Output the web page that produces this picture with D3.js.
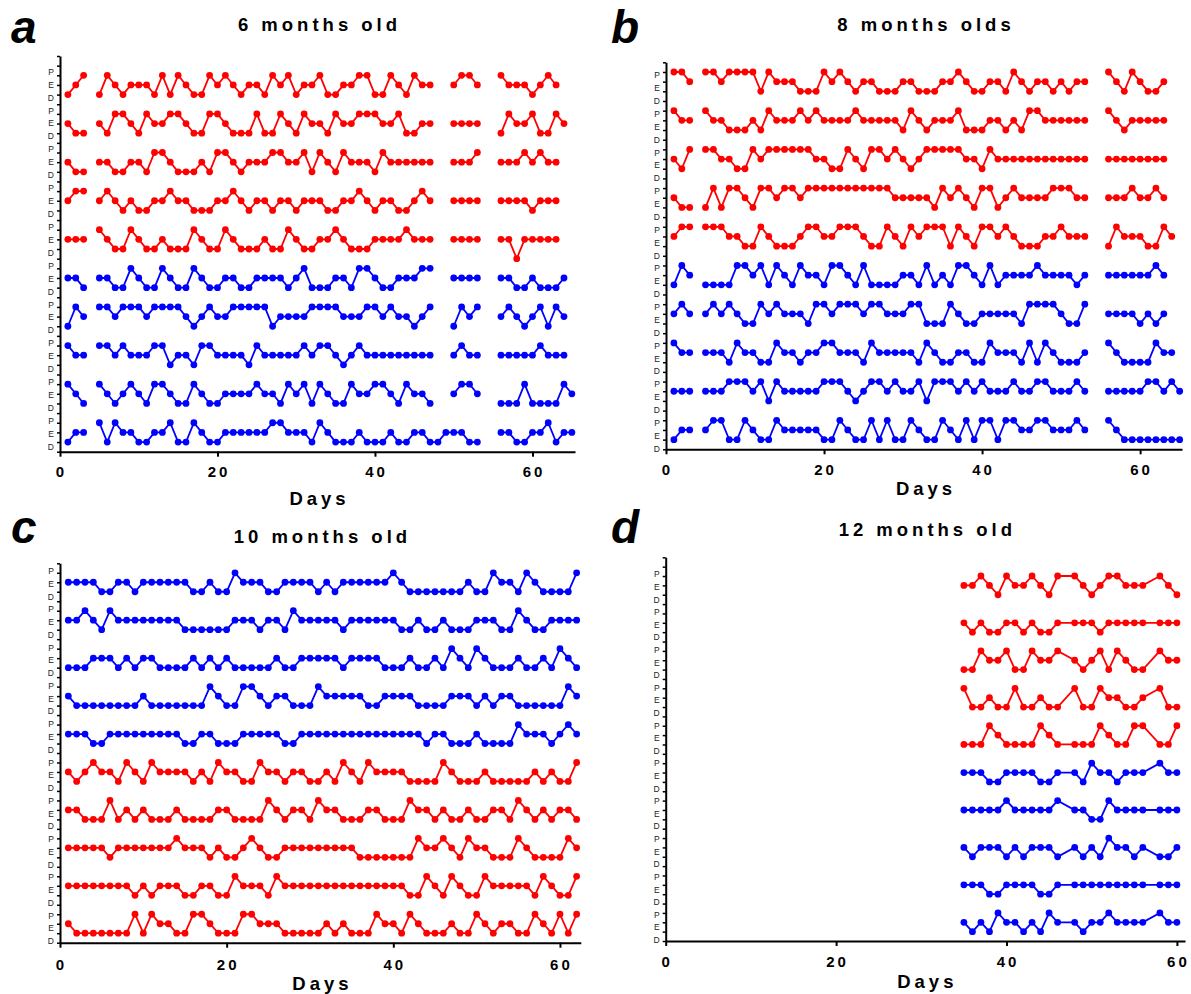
<!DOCTYPE html>
<html>
<head>
<meta charset="utf-8">
<script src="https://cdn.jsdelivr.net/npm/d3@7"></script>
<style>
  body { margin: 0; background: #fff; }
  svg { display: block; }
</style>
</head>
<body>
<div id="chart"></div>
<script>
// missing day
const N = null;

// level codes: 0 = D, 1 = E, 2 = P (-1 = below D)
const levelNames = ["D", "E", "P"];
const dayTicks = [0, 20, 40, 60];

// ---- 6 months old (days from 1) ----
const rows6 = [
  [0,1,2,N, 0,2,1,0,1,1,1,0,2,0,2,1,0,0,2,1,2,1,0,1,1,0,2,1,2,0,1,1,2,0,0,1,1,2,2,0,0,2,1,0,2,1,1, N,N, 1,2,2,1, N,N, 2,1,1,1,0,1,2,1],
  [1,0,0,N, 1,0,2,2,1,0,2,1,1,2,2,1,0,0,2,2,1,0,0,0,2,0,0,2,1,0,2,1,1,0,2,1,1,2,2,2,1,1,2,0,0,1,1, N,N, 1,1,1,1, N,N, 0,2,1,1,2,0,0,2,1],
  [1,0,0,N, 1,1,0,0,1,1,0,2,2,1,0,0,0,1,0,2,2,1,0,1,1,1,2,2,1,1,2,0,2,1,0,2,1,1,1,0,2,1,1,1,1,1,1, N,N, 1,1,1,2, N,N, 1,1,1,2,1,2,1,1],
  [1,2,2,N, 1,2,1,0,1,0,0,1,1,2,1,1,0,0,0,1,1,2,1,0,1,1,0,1,1,0,1,1,1,0,0,1,1,2,1,0,1,1,0,0,1,2,1, N,N, 1,1,1,1, N,N, 1,1,1,1,0,1,1,1],
  [1,1,1,N, 2,1,0,0,2,1,0,0,1,0,0,0,2,1,0,0,2,1,0,0,0,1,0,0,2,1,0,0,1,1,2,1,0,0,0,1,1,1,1,2,1,1,1, N,N, 1,1,1,1, N,N, 1,1,-1,1,1,1,1,1],
  [1,1,0,N, 1,1,0,0,2,1,0,0,2,1,0,0,2,1,0,0,1,1,0,0,1,1,1,1,0,1,2,0,0,0,1,1,0,2,2,1,0,0,1,1,1,2,2, N,N, 1,1,1,1, N,N, 1,1,0,0,1,0,0,0,1],
  [0,2,1,N, 2,2,1,2,2,2,1,2,2,2,2,1,0,1,2,1,1,2,2,2,2,2,0,1,1,1,1,2,2,2,2,1,1,1,2,2,1,2,1,1,0,1,2, N,N, 0,2,1,2, N,N, 1,2,1,0,1,2,0,2,1],
  [2,1,1,N, 2,2,1,2,1,1,1,2,2,0,1,1,0,2,2,1,1,1,1,0,2,1,1,1,1,1,2,1,2,2,1,0,1,2,1,1,1,1,1,1,1,1,1, N,N, 1,2,1,1, N,N, 1,1,1,1,1,2,1,1,1],
  [2,1,0,N, 2,1,0,1,2,1,0,2,2,1,0,0,2,1,0,0,1,1,1,1,2,1,1,0,2,1,2,0,2,1,0,0,2,1,1,2,2,1,0,2,1,1,0, N,N, 1,2,2,1, N,N, 0,0,0,2,0,0,0,0,2,1],
  [0,1,1,N, 2,0,2,1,1,0,0,1,1,2,0,0,2,1,0,0,1,1,1,1,1,1,2,2,1,1,1,0,2,1,0,0,0,1,0,0,0,1,0,0,1,1,0,0, 1,1,1,0,0, N,N, 1,1,0,0,1,1,2,0,1,1]
];

// ---- 8 months olds (days from 1) ----
const rows8 = [
  [2,2,1,N, 2,2,1,2,2,2,2,0,2,1,1,1,0,0,0,2,1,2,1,0,1,1,0,0,0,1,1,0,0,0,1,1,2,1,0,0,1,1,0,2,1,0,1,1,0,1,0,1,1, N,N, 2,1,0,2,1,0,0,1],
  [2,1,1,N, 2,1,1,0,0,0,1,0,2,1,1,1,2,1,2,1,1,1,1,2,1,1,1,1,1,0,2,1,0,1,1,1,2,0,0,0,1,1,0,1,0,2,2,1,1,1,1,1,1, N,N, 2,1,0,1,1,1,1,1],
  [1,0,2,N, 2,2,1,1,0,0,2,1,2,2,2,2,2,2,1,1,0,0,2,1,0,2,2,1,2,1,0,1,2,2,2,2,2,1,1,0,2,1,1,1,1,1,1,1,1,1,1,1,1, N,N, 1,1,1,1,1,1,1,1],
  [1,0,0,N, 0,2,0,2,2,1,0,2,2,1,2,2,1,2,2,2,2,2,2,2,2,2,2,2,1,1,1,1,1,0,2,1,2,1,0,2,2,0,1,2,1,1,1,1,2,2,2,1,1, N,N, 1,1,1,2,1,1,2,1],
  [1,2,2,N, 2,2,2,1,1,0,0,2,1,0,0,0,1,2,2,1,1,2,2,2,1,0,0,2,1,0,2,1,2,2,2,0,2,1,0,2,2,1,2,1,0,0,0,1,1,2,1,1,1, N,N, 0,2,1,1,1,0,0,2,1],
  [0,2,1,N, 0,0,0,0,2,2,1,2,0,2,1,0,2,1,1,0,2,2,1,0,2,0,0,0,0,1,1,0,2,0,1,0,2,2,1,0,2,0,1,1,1,1,2,1,1,1,1,0,1, N,N, 1,1,1,1,1,1,2,1],
  [1,2,1,N, 1,2,1,2,1,0,0,2,1,2,1,1,1,0,2,2,1,2,2,2,1,2,2,1,1,1,2,2,0,0,0,2,1,0,0,1,1,1,1,1,0,2,2,2,2,1,0,0,2, N,N, 1,1,1,1,0,1,0,1],
  [2,1,1,N, 1,1,1,0,2,1,1,0,0,2,1,1,0,1,1,2,2,1,1,1,0,2,1,1,1,1,1,0,2,1,0,0,1,1,0,0,2,1,1,1,0,2,0,2,1,0,0,0,1, N,N, 2,1,0,0,0,0,2,1,1],
  [1,1,1,N, 1,1,1,2,2,2,1,2,0,2,1,1,1,1,1,2,2,2,1,0,1,2,2,1,2,1,1,2,0,2,2,2,1,2,1,2,1,1,1,2,1,1,2,2,1,1,1,2,1, N,N, 1,1,1,1,1,2,2,1,2,1],
  [0,1,1,N, 1,2,2,0,0,2,1,0,0,2,1,1,1,1,1,0,0,2,1,0,0,2,0,2,0,0,2,1,0,0,2,1,0,2,0,2,2,0,2,2,1,1,2,2,1,1,1,2,1, N,N, 2,1,0,0,0,0,0,0,0,0]
];

// ---- 10 months old (days from 1) ----
const rows10 = [
  [1,1,1,1,0,0,1,1,0,1,1,1,1,1,1,0,0,1,0,0,2,1,1,1,0,0,1,1,1,1,0,1,0,1,1,1,1,1,1,2,1,0,0,0,0,0,0,0,1,0,0,2,1,1,0,2,1,0,0,0,0,2],
  [1,1,2,1,0,2,1,1,1,1,1,1,1,1,0,0,0,0,0,0,1,1,1,0,1,1,0,2,1,1,1,1,1,0,1,1,1,1,1,1,0,0,1,0,0,1,0,0,0,1,1,1,0,0,2,1,0,0,1,1,1,1],
  [0,0,0,1,1,1,0,1,0,1,1,0,0,0,0,1,0,1,0,1,0,0,0,0,0,1,0,0,1,1,1,1,1,0,1,1,1,1,0,0,0,1,0,0,1,0,2,1,0,2,1,0,0,0,1,0,0,1,0,2,1,0],
  [1,0,0,0,0,0,0,0,0,1,0,0,0,0,0,0,0,2,1,0,0,2,2,1,0,1,1,0,0,0,2,1,1,1,1,1,0,0,1,1,1,1,0,0,0,0,1,1,1,0,1,0,1,1,0,0,0,0,0,0,2,1],
  [1,1,1,0,0,1,1,1,1,1,1,1,1,1,0,0,1,1,0,0,0,1,1,1,1,1,0,0,1,1,1,1,1,1,1,1,1,1,1,1,1,1,1,0,1,1,0,0,0,1,0,0,0,0,2,1,1,1,0,1,2,1],
  [1,0,1,2,1,1,0,2,1,0,2,1,1,1,1,0,1,0,2,1,1,0,0,2,1,1,0,1,1,0,0,1,0,2,1,0,2,1,1,1,1,0,0,0,0,2,1,0,0,0,1,0,0,0,0,0,1,0,1,0,0,2],
  [1,1,0,0,0,2,0,1,0,1,0,0,0,1,0,0,0,0,1,1,0,0,0,0,2,1,0,1,1,0,2,1,1,0,0,0,1,1,0,0,0,2,1,1,0,1,0,0,1,0,0,1,1,0,2,1,0,1,0,1,1,0],
  [1,1,1,1,1,0,1,1,1,1,1,1,1,2,1,1,1,0,1,0,0,1,2,1,0,0,1,1,1,1,1,1,1,1,1,0,0,0,0,0,0,0,2,1,1,2,1,0,2,1,1,0,0,0,2,1,0,0,0,0,2,1],
  [1,1,1,1,1,1,1,1,0,1,0,1,1,1,0,0,1,1,0,0,2,1,1,1,0,2,1,1,1,1,1,1,1,1,1,1,1,1,1,1,1,0,0,2,1,0,2,1,0,0,2,1,1,1,1,1,0,2,1,0,0,2],
  [1,0,0,0,0,0,0,0,2,0,2,1,1,0,0,2,2,1,0,0,0,2,2,1,1,1,0,0,0,0,0,1,0,1,0,0,0,2,1,1,0,2,1,0,0,0,1,0,0,2,1,0,1,1,0,0,2,1,0,2,0,2]
];

// ---- 12 months old (days from 35) ----
const firstDay12 = 35;
const rows12 = [
  [1,1,2,1,0,2,1,1,2,1,0,2,N,2,1,0,1,2,2,1,1,1,N,2,1,0],
  [1,0,1,0,0,1,1,0,1,0,0,1,N,1,1,1,0,1,1,1,1,1,N,1,1,1],
  [0,0,2,1,1,2,0,0,2,1,1,2,N,1,0,1,2,0,2,1,0,0,N,2,1,1],
  [2,0,0,1,0,0,2,0,0,1,0,0,N,2,0,0,2,1,1,0,0,1,N,2,0,0],
  [0,0,0,2,1,0,0,0,0,2,1,0,N,0,0,0,2,1,0,0,2,2,N,0,0,2],
  [1,1,1,0,0,1,1,1,1,0,0,1,N,1,0,2,1,1,0,1,1,1,N,2,1,1],
  [1,1,1,1,1,2,1,1,1,1,1,2,N,1,1,0,0,2,1,1,1,1,N,1,1,1],
  [1,0,1,1,1,0,1,0,1,1,1,0,N,1,0,1,0,2,1,1,0,1,N,0,0,1],
  [1,1,1,0,0,1,1,1,1,0,0,1,N,1,1,1,1,1,1,1,1,1,N,1,1,1],
  [1,0,1,0,2,1,1,0,1,0,2,1,N,1,0,1,1,2,1,1,1,1,N,2,1,1]
];

const RED = "#ff0000";
const BLUE = "#0000ff";

// panel layout
var panels = [
  { letter: "a", title: "6 months old", rows: rows6, first: 1, connect: false,
    colors: [RED, BLUE], left: 60, right: 575, xMax: 65.4, top: 56, bottom: 451.7, yMax: 40,
    labLo: -0.5, labHi: 38.37, letterX: 11, letterY: 43, titleY: 31, tickY: 477, daysY: 505 },
  { letter: "b", title: "8 months olds", rows: rows8, first: 1, connect: false,
    colors: [RED, BLUE], left: 666, right: 1182, xMax: 65.3, top: 62.3, bottom: 449.3, yMax: 39,
    labLo: -0.93, labHi: 37.65, letterX: 611, letterY: 43, titleY: 31, tickY: 475, daysY: 495 },
  { letter: "c", title: "10 months old", rows: rows10, first: 1, connect: false,
    colors: [BLUE, RED], left: 60, right: 580.8, xMax: 62.5, top: 563.3, bottom: 942.7, yMax: 39,
    labLo: -0.84, labHi: 38.17, letterX: 11, letterY: 543, titleY: 543, tickY: 970, daysY: 990 },
  { letter: "d", title: "12 months old", rows: rows12, first: firstDay12, connect: true,
    colors: [RED, BLUE], left: 665.7, right: 1185, xMax: 60.95, top: 557.3, bottom: 941, yMax: 40,
    labLo: -0.89, labHi: 38.18, letterX: 611, letterY: 543, titleY: 536, tickY: 967, daysY: 988 }
];

var w = 1191;
var h = 994;

var svg = d3.select("#chart")
  .append("svg")
  .attr("width", w)
  .attr("height", h)
  .style("font-family", "'Liberation Sans', Arial, sans-serif");

function drawPanel(p) {
  var x = d3.scaleLinear().domain([0, p.xMax]).range([p.left, p.right]);
  var y = d3.scaleLinear().domain([-1, p.yMax]).range([p.bottom, p.top]);
  var g = svg.append("g");
  var mid = (p.left + p.right) / 2;

  // panel letter
  g.append("text")
    .attr("x", p.letterX)
    .attr("y", p.letterY)
    .attr("font-size", "46px")
    .attr("font-weight", "bold")
    .attr("font-style", "italic")
    .text(p.letter);

  // title
  g.append("text")
    .attr("x", mid + 2)
    .attr("y", p.titleY)
    .attr("text-anchor", "middle")
    .attr("font-size", "18.5px")
    .attr("font-weight", "bold")
    .attr("letter-spacing", "4px")
    .text(p.title);

  // y axis: a tick on every level step
  var yAxis = d3.axisLeft(y)
    .tickValues(d3.range(-1, p.yMax + 1))
    .tickSize(3)
    .tickSizeOuter(0)
    .tickFormat("");
  var ya = g.append("g")
    .attr("transform", "translate(" + p.left + ",0)")
    .call(yAxis);
  ya.select(".domain").attr("stroke-width", 2);
  ya.selectAll(".tick line").attr("stroke-width", 1.5);

  // D / E / P labels, evenly spaced up the axis
  var nLab = p.rows.length * 3;
  var labVals = d3.range(nLab).map(function(i) {
    return p.labLo + i * (p.labHi - p.labLo) / (nLab - 1);
  });
  g.selectAll(".ylab")
    .data(labVals)
    .enter()
    .append("text")
    .attr("x", p.left - 6)
    .attr("y", function(d) { return y(d); })
    .attr("dy", "0.35em")
    .attr("text-anchor", "end")
    .attr("font-size", "8.5px")
    .attr("fill", "#222")
    .text(function(d, i) { return levelNames[i % 3]; });

  // x axis
  var xAxis = d3.axisBottom(x)
    .tickValues(dayTicks)
    .tickSize(5)
    .tickSizeOuter(0)
    .tickFormat("");
  var xa = g.append("g")
    .attr("transform", "translate(0," + p.bottom + ")")
    .call(xAxis);
  xa.select(".domain").attr("stroke-width", 2);
  xa.selectAll(".tick line").attr("stroke-width", 2);

  g.selectAll(".xlab")
    .data(dayTicks)
    .enter()
    .append("text")
    .attr("x", function(d) { return x(d) + 1.5; })
    .attr("y", p.tickY)
    .attr("text-anchor", "middle")
    .attr("font-size", "15px")
    .attr("font-weight", "bold")
    .attr("letter-spacing", "3px")
    .text(function(d) { return d; });

  g.append("text")
    .attr("x", mid + 2)
    .attr("y", p.daysY)
    .attr("text-anchor", "middle")
    .attr("font-size", "18.5px")
    .attr("font-weight", "bold")
    .attr("letter-spacing", "4px")
    .text("Days");

  // one trace per animal, stacked 4 levels apart
  var half = p.rows.length / 2;
  p.rows.forEach(function(vals, r) {
    var offset = (p.rows.length - 1 - r) * 4;
    var color = r < half ? p.colors[0] : p.colors[1];
    var pts = vals.map(function(v, i) { return { day: p.first + i, v: v }; });
    var present = pts.filter(function(d) { return d.v !== null; });

    var line = d3.line()
      .defined(function(d) { return d.v !== null; })
      .x(function(d) { return x(d.day); })
      .y(function(d) { return y(offset + d.v); });

    g.append("path")
      .attr("d", line(p.connect ? present : pts))
      .attr("fill", "none")
      .attr("stroke", color)
      .attr("stroke-width", 1.8);

    g.selectAll(null)
      .data(present)
      .enter()
      .append("circle")
      .attr("cx", function(d) { return x(d.day); })
      .attr("cy", function(d) { return y(offset + d.v); })
      .attr("r", 3.4)
      .attr("fill", color);
  });
}

panels.forEach(drawPanel);
</script>
</body>
</html>
